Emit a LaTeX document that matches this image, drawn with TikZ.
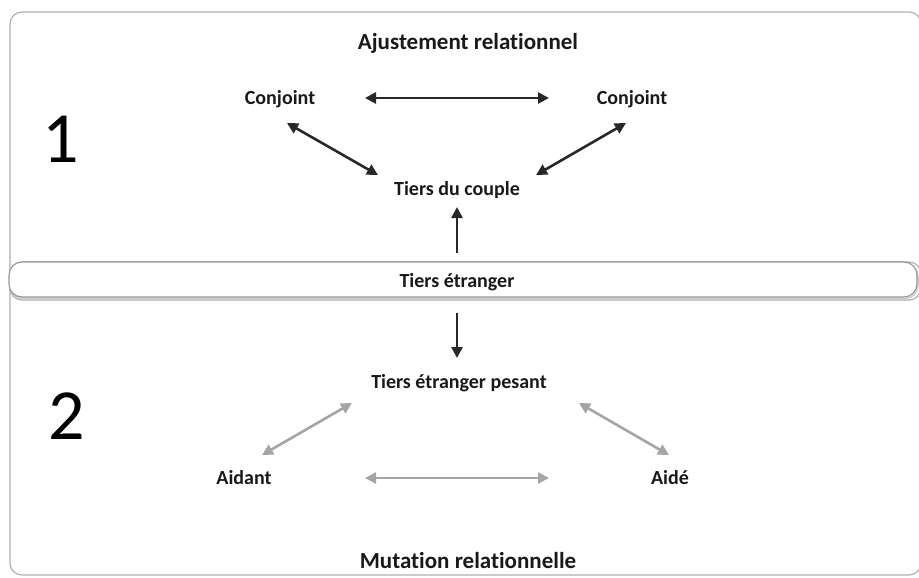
\documentclass[tikz,border=0pt]{standalone}
\usepackage{fontspec}
\setmainfont{Carlito}[Ligatures={NoCommon}]
\usetikzlibrary{arrows.meta}
\definecolor{boxline}{RGB}{175,175,175}
\definecolor{bandline}{RGB}{150,150,150}
\definecolor{darkarr}{RGB}{40,40,40}
\definecolor{greyarr}{RGB}{165,165,165}
\tikzset{
  lbl/.style={font=\fontsize{20}{24}\selectfont\bfseries, inner sep=0pt, text=black!90},
  ttl/.style={font=\fontsize{23}{27}\selectfont\bfseries, inner sep=0pt, text=black!90},
  num/.style={font=\fontsize{72}{80}\selectfont, inner sep=0pt},
  darr/.style={draw=darkarr, line width=2.6pt, -{Triangle[length=11pt,width=11pt]}},
  dbl/.style={draw=darkarr, line width=2.6pt, {Triangle[length=11pt,width=11pt]}-{Triangle[length=11pt,width=11pt]}},
  gbl/.style={draw=greyarr, line width=2.6pt, {Triangle[length=11pt,width=11pt]}-{Triangle[length=11pt,width=11pt]}},
}
\begin{document}
\begin{tikzpicture}[x=1pt,y=-1pt]
\useasboundingbox (0,0) rectangle (919,578);
\begin{scope}
\clip (0,0) rectangle (919,578);
% frames
\draw[boxline, line width=1.2pt, rounded corners=12pt] (10,12) rectangle (921,300);
\draw[boxline, line width=1.2pt, rounded corners=12pt] (10,262) rectangle (921,575);
\end{scope}
% band
\fill[white, rounded corners=13pt] (9,262) rectangle (917,297);
\draw[black!20, line width=1.5pt, rounded corners=13pt] (10,263.5) rectangle (918,298.5);
\draw[bandline, line width=1.1pt, rounded corners=13pt, fill=white] (9,262) rectangle (917,297);
\node[lbl] (te) at (457,282) {Tiers étranger};

% part 1
\node[ttl] (t1) at (468,43) {Ajustement relationnel};
\node[num] (n1) at (61,139) {1};
\node[lbl] (cl) at (280,99) {Conjoint};
\node[lbl] (cr) at (632,99) {Conjoint};
\node[lbl] (tc) at (457,190) {Tiers du couple};
\coordinate (h1a) at (365,98);
\coordinate (h1b) at (549,98);
\coordinate (l1a) at (287,123);
\coordinate (l1b) at (378,175);
\coordinate (r1a) at (626,123);
\coordinate (r1b) at (536,175);
\coordinate (u1a) at (457,253);
\coordinate (u1b) at (457,207);
\draw[dbl] (h1a) -- (h1b);
\draw[dbl] (l1a) -- (l1b);
\draw[dbl] (r1a) -- (r1b);
\draw[darr] (u1a) -- (u1b);

% part 2
\coordinate (d2a) at (457,313);
\coordinate (d2b) at (457,358);
\draw[darr] (d2a) -- (d2b);
\node[lbl] (tp) at (459,383) {Tiers étranger pesant};
\node[num] (n2) at (67,416) {2};
\node[lbl] (ad) at (244,478) {Aidant};
\node[lbl] (ae) at (670,478) {Aidé};
\node[ttl] (t2) at (468,561) {Mutation relationnelle};
\coordinate (l2a) at (352,403);
\coordinate (l2b) at (262,455);
\coordinate (r2a) at (579,403);
\coordinate (r2b) at (669,455);
\coordinate (h2a) at (365,478);
\coordinate (h2b) at (549,478);
\draw[gbl] (l2a) -- (l2b);
\draw[gbl] (r2a) -- (r2b);
\draw[gbl] (h2a) -- (h2b);
\end{tikzpicture}
\end{document}
